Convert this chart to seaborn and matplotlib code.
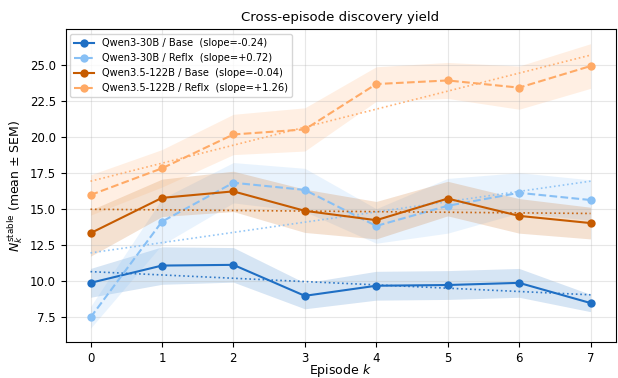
import numpy as np
import pandas as pd
import matplotlib
matplotlib.use("Agg")
import matplotlib.pyplot as plt
import seaborn as sns

# values
episodes = [0, 1, 2, 3, 4, 5, 6, 7]
series_names = ["Qwen3-30B / Base", "Qwen3-30B / Reflx",
                "Qwen3.5-122B / Base", "Qwen3.5-122B / Reflx"]
slope_labels = ["-0.24", "+0.72", "-0.04", "+1.26"]

q30_base = [9.85, 11.05, 11.1, 8.95, 9.65, 9.7, 9.85, 8.45]
q30_reflx = [7.45, 14.1, 16.8, 16.3, 13.8, 15.2, 16.1, 15.6]
q122_base = [13.3, 15.75, 16.2, 14.85, 14.2, 15.7, 14.5, 14.0]
q122_reflx = [15.95, 17.8, 20.15, 20.5, 23.65, 23.9, 23.4, 24.9]

q30_base_sem = [1.0, 1.3, 1.2, 0.9, 1.0, 1.0, 1.0, 0.6]
q30_reflx_sem = [0.75, 1.6, 1.4, 1.5, 1.2, 1.9, 1.4, 1.4]
q122_base_sem = [1.6, 1.3, 1.4, 1.5, 1.3, 1.2, 1.2, 1.1]
q122_reflx_sem = [1.4, 1.3, 1.4, 1.5, 1.2, 1.25, 1.5, 1.55]

colors = ["#1f6fc4", "#88c0f5", "#c65b00", "#ffaa66"]
dashed = [False, True, False, True]

means = [q30_base, q30_reflx, q122_base, q122_reflx]
sems = [q30_base_sem, q30_reflx_sem, q122_base_sem, q122_reflx_sem]

fig, ax = plt.subplots(figsize=(6.18, 3.78), dpi=100)

for name, m, s, c, d, sl in zip(series_names, means, sems, colors, dashed, slope_labels):
    df = pd.DataFrame({"k": episodes, "mean": m, "sem": s})
    ax.fill_between(df["k"], df["mean"] - df["sem"], df["mean"] + df["sem"],
                    color=c, alpha=0.18, linewidth=0)
    sns.lineplot(data=df, x="k", y="mean", ax=ax, color=c, marker="o",
                 markersize=6, markeredgewidth=0, linewidth=1.5,
                 linestyle="--" if d else "-",
                 label=f"{name}  (slope={sl})")
    # linear trend
    p = np.polyfit(df["k"], df["mean"], 1)
    ax.plot(df["k"], np.polyval(p, df["k"]), linestyle=":", color=c,
            linewidth=1.2, alpha=0.9)

ax.grid(True, alpha=0.3)
ax.set_title("Cross-episode discovery yield", fontsize=9.5)
ax.set_xlabel("Episode $k$", fontsize=9, labelpad=-2)
ax.set_ylabel(r"$N_k^{\mathrm{stable}}$ (mean $\pm$ SEM)", fontsize=9, labelpad=3)
ax.tick_params(labelsize=8.5)
ax.legend(loc="upper left", fontsize=7.1, frameon=True)

fig.subplots_adjust(left=0.106, right=0.996, top=0.922, bottom=0.094)
fig.savefig("out.png", dpi=100)
